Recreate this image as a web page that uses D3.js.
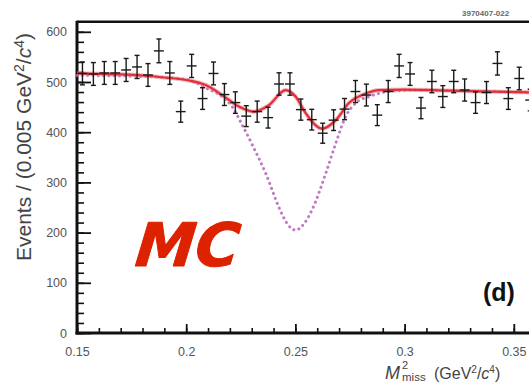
<!DOCTYPE html>
<html>
<head>
<meta charset="utf-8">
<script src="https://cdn.jsdelivr.net/npm/d3@7"></script>
<style>
  body { margin: 0; background: #fff; }
  svg { display: block; }
</style>
</head>
<body>
<script>

// ---- data ----
// bin centres of the MC histogram (0.005 GeV^2/c^4 bins)
var binCentres = [0.1525, 0.1575, 0.1625, 0.1675, 0.1725, 0.1775, 0.1825, 0.1875, 0.1925, 0.1975,
                  0.2025, 0.2075, 0.2125, 0.2175, 0.2225, 0.2275, 0.2325, 0.2375, 0.2425, 0.2475,
                  0.2525, 0.2575, 0.2625, 0.2675, 0.2725, 0.2775, 0.2825, 0.2875, 0.2925, 0.2975,
                  0.3025, 0.3075, 0.3125, 0.3175, 0.3225, 0.3275, 0.3325, 0.3375, 0.3425, 0.3475,
                  0.3525, 0.3575];
var events = [517, 516, 518, 518, 524, 530, 514, 562, 518, 441,
              532, 467, 517, 475, 459, 432, 441, 429, 496, 496,
              445, 425, 398, 424, 446, 481, 474, 434, 481, 532,
              516, 448, 501, 471, 501, 484, 459, 479, 537, 467,
              507, 464];

// total fit (red solid)
var fitX = [0.15, 0.16, 0.17, 0.18, 0.19, 0.195, 0.2013, 0.2089, 0.2165, 0.2242,
            0.231, 0.2379, 0.2455, 0.2501, 0.2547, 0.2623, 0.2685, 0.2745, 0.2822, 0.2883,
            0.30, 0.32, 0.34, 0.36, 0.38, 0.40];
var fitY = [517, 516, 515, 513, 509, 507, 503, 494, 474, 451,
            441, 454, 484, 471, 438, 407, 424, 458, 477, 484,
            485, 483, 481, 479, 478, 477];

// signal-free shape (magenta dotted)
var bkgX = [0.15, 0.17, 0.19, 0.2013, 0.2095, 0.2164, 0.221, 0.2256, 0.2306, 0.2364,
            0.2425, 0.2462, 0.2501, 0.254, 0.2577, 0.2639, 0.2685, 0.273, 0.2776, 0.2837,
            0.2929, 0.308, 0.33, 0.36, 0.40];
var bkgY = [513, 512, 509, 504, 487, 471, 451, 415, 372, 318,
            250, 218, 205, 218, 246, 318, 378, 431, 458, 471,
            481, 484, 482, 479, 477];

var xTickVals = [0.15, 0.2, 0.25, 0.3, 0.35];
var xTickLabels = ["0.15", "0.2", "0.25", "0.3", "0.35"];
var yTickVals = [0, 100, 200, 300, 400, 500, 600];

// ---- layout ----
var W = 529, H = 385;
var x0 = 77, y0 = 333;

var svg = d3.select("body").append("svg")
  .attr("width", W)
  .attr("height", H);

var x = d3.scaleLinear().domain([0.15, 0.40]).range([x0, x0 + 5 * 109.2]);
var y = d3.scaleLinear().domain([0, 620]).range([y0, y0 - 620 * 0.502]);
var binW = 0.005;

var font = "'Liberation Sans', Arial, Helvetica, sans-serif";

// frame top line
svg.append("line")
  .attr("x1", x0).attr("x2", W)
  .attr("y1", y(620)).attr("y2", y(620))
  .style("stroke", "#111").style("stroke-width", 2.5);

// y axis - major + minor ticks pointing inwards
var yMinor = d3.range(0, 620, 20);
svg.append("g")
  .attr("transform", "translate(" + x0 + ",0)")
  .call(d3.axisLeft(y).tickValues(yMinor).tickSize(-7).tickSizeOuter(0).tickFormat(""))
  .call(function(g){ g.select(".domain").remove(); })
  .selectAll("line").style("stroke", "#111").style("stroke-width", 1.6);

var yAx = svg.append("g")
  .attr("transform", "translate(" + x0 + ",0)")
  .call(d3.axisLeft(y).tickValues(yTickVals).tickSize(-14).tickSizeOuter(0).tickPadding(10));
yAx.select(".domain").remove();
yAx.selectAll("line").style("stroke", "#111").style("stroke-width", 1.8);
yAx.selectAll("text").style("font-family", font).style("font-size", "12.5px").style("fill", "#555");

// x axis (ticks run on past the right edge, labels only where visible)
var xMinor = d3.range(0.15, 0.4001, 0.01);
svg.append("g")
  .attr("transform", "translate(0," + y0 + ")")
  .call(d3.axisBottom(x).tickValues(xMinor).tickSize(-5).tickSizeOuter(0).tickFormat(""))
  .call(function(g){ g.select(".domain").remove(); })
  .selectAll("line").style("stroke", "#111").style("stroke-width", 1.6);

var xAx = svg.append("g")
  .attr("transform", "translate(0," + y0 + ")")
  .call(d3.axisBottom(x).tickValues(xTickVals).tickSize(-9).tickSizeOuter(0).tickPadding(14)
        .tickFormat(function(d, i){ return xTickLabels[i]; }));
xAx.select(".domain").remove();
xAx.selectAll("line").style("stroke", "#111").style("stroke-width", 1.8);
xAx.selectAll("text").style("font-family", font).style("font-size", "12.5px").style("fill", "#555");

// thick axis lines
svg.append("line").attr("x1", x0).attr("x2", x0).attr("y1", y(620) - 1).attr("y2", y0 + 1.5)
  .style("stroke", "#111").style("stroke-width", 3);
svg.append("line").attr("x1", x0 - 1.5).attr("x2", W).attr("y1", y0).attr("y2", y0)
  .style("stroke", "#111").style("stroke-width", 3);

// dotted curve
var line = d3.line().curve(d3.curveMonotoneX);
svg.append("path")
  .attr("d", line(bkgX.map(function(d, i){ return [x(d), y(bkgY[i])]; })))
  .style("fill", "none")
  .style("stroke", "#b463b8")
  .style("stroke-width", 3)
  .style("stroke-linecap", "round")
  .style("stroke-dasharray", "0.1 5.2")
  .style("opacity", 0.85);

// fit curve
svg.append("path")
  .attr("d", line(fitX.map(function(d, i){ return [x(d), y(fitY[i])]; })))
  .style("fill", "none")
  .style("stroke", "#f08a90")
  .style("stroke-width", 4.2)
  .style("opacity", 0.6);
svg.append("path")
  .attr("d", line(fitX.map(function(d, i){ return [x(d), y(fitY[i])]; })))
  .style("fill", "none")
  .style("stroke", "#e0303c")
  .style("stroke-width", 2.2);

// data points with error bars
var pts = svg.append("g").style("stroke", "#1a1a1a").style("stroke-width", 1.4);
binCentres.forEach(function(c, i){
  var v = events[i], e = Math.sqrt(v);
  var cx = x(c);
  pts.append("line").attr("x1", x(c - binW/2) + 0.5).attr("x2", x(c + binW/2) - 0.5)
    .attr("y1", y(v)).attr("y2", y(v));
  pts.append("line").attr("x1", cx).attr("x2", cx).attr("y1", y(v + e)).attr("y2", y(v - e));
  pts.append("line").attr("x1", cx - 2.5).attr("x2", cx + 2.5).attr("y1", y(v + e)).attr("y2", y(v + e));
  pts.append("line").attr("x1", cx - 2.5).attr("x2", cx + 2.5).attr("y1", y(v - e)).attr("y2", y(v - e));
});

// y axis title
var yt = svg.append("text")
  .attr("transform", "translate(31,147) rotate(-90)")
  .attr("text-anchor", "middle")
  .style("font-family", font).style("font-size", "21px").style("fill", "#444");
yt.append("tspan").text("Events / (0.005 GeV");
yt.append("tspan").attr("dy", -7).style("font-size", "14px").text("2");
yt.append("tspan").attr("dy", 7).text("/");
yt.append("tspan").style("font-style", "italic").text("c");
yt.append("tspan").attr("dy", -7).style("font-size", "14px").text("4");
yt.append("tspan").attr("dy", 7).text(")");

// x axis title
var xt = svg.append("g").style("font-family", font).style("fill", "#444");
xt.append("text").attr("x", 385).attr("y", 379).style("font-size", "18px").style("font-style", "italic").text("M");
xt.append("text").attr("x", 402).attr("y", 369).style("font-size", "11px").text("2");
xt.append("text").attr("x", 402).attr("y", 381).style("font-size", "11.5px").text("miss");
var xt2 = xt.append("text").attr("x", 434).attr("y", 379).style("font-size", "16px");
xt2.append("tspan").text("(GeV");
xt2.append("tspan").attr("dy", -6).style("font-size", "10px").text("2");
xt2.append("tspan").attr("dy", 6).text("/");
xt2.append("tspan").style("font-style", "italic").text("c");
xt2.append("tspan").attr("dy", -6).style("font-size", "10px").text("4");
xt2.append("tspan").attr("dy", 6).text(")");

// figure id in the corner
svg.append("text").attr("x", 462).attr("y", 16)
  .style("font-family", font).style("font-size", "8px").style("font-weight", "bold").style("fill", "#666")
  .text("3970407-022");

// panel letter
svg.append("text").attr("x", 483).attr("y", 301)
  .style("font-family", font).style("font-size", "25px").style("font-weight", "bold").style("fill", "#111")
  .text("(d)");

// MC stamp
svg.append("text").attr("transform", "translate(134,266) skewX(-6)")
  .style("font-family", "'DejaVu Sans', sans-serif").style("font-size", "60px")
  .style("font-weight", "bold").style("font-style", "italic")
  .style("fill", "#dd2200").style("stroke", "#dd2200").style("stroke-width", 1)
  .style("stroke-linejoin", "round")
  .text("MC");

</script>
</body>
</html>
